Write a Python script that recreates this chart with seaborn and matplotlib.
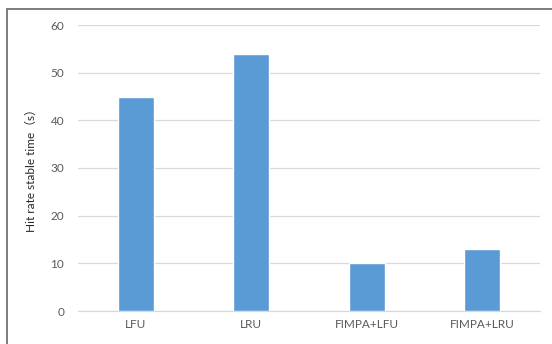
import matplotlib
matplotlib.use("Agg")
import matplotlib.pyplot as plt
import seaborn as sns
import pandas as pd
from matplotlib.patches import Rectangle

categories = ["LFU", "LRU", "FIMPA+LFU", "FIMPA+LRU"]
values = [45, 54, 10, 13]
yticks = [0, 10, 20, 30, 40, 50, 60]
ylabel = "Hit rate stable time（s）"

sns.set_theme(style="white")
plt.rcParams['font.family'] = ['Lato', 'Noto Sans CJK SC', 'DejaVu Sans']

df = pd.DataFrame({"cat": categories, "val": values})

fig = plt.figure(figsize=(5.52, 3.44), dpi=100)
ax = fig.add_axes([78/552, 1-311/344, (540-78)/552, (311-25)/344])

sns.barplot(data=df, x="cat", y="val", color="#5B9BD5", width=0.31,
            saturation=1, ax=ax, zorder=3)

ax.set_ylim(0, 60)
ax.set_yticks(yticks)
ax.set_xlim(-0.5, 3.5)
ax.grid(axis="y", color="#d9d9d9", linewidth=0.9, zorder=0)
ax.set_axisbelow(True)
for s in ["top", "right", "left"]:
    ax.spines[s].set_visible(False)
ax.spines["bottom"].set_color("#d9d9d9")
ax.spines["bottom"].set_linewidth(0.9)
ax.tick_params(axis="both", length=0, colors="#595959", labelsize=8.5)
ax.tick_params(axis="y", pad=10)
ax.tick_params(axis="x", pad=6)
ax.set_xlabel("")
ax.set_ylabel(ylabel, fontsize=8.5, color="#262626", labelpad=10)

fig.patches.append(Rectangle((7/552, -0.1), 1.2, 1-9/344+0.1,
                             transform=fig.transFigure, fill=False,
                             edgecolor="#737373", linewidth=1.3))

fig.savefig("out.png", dpi=100)
